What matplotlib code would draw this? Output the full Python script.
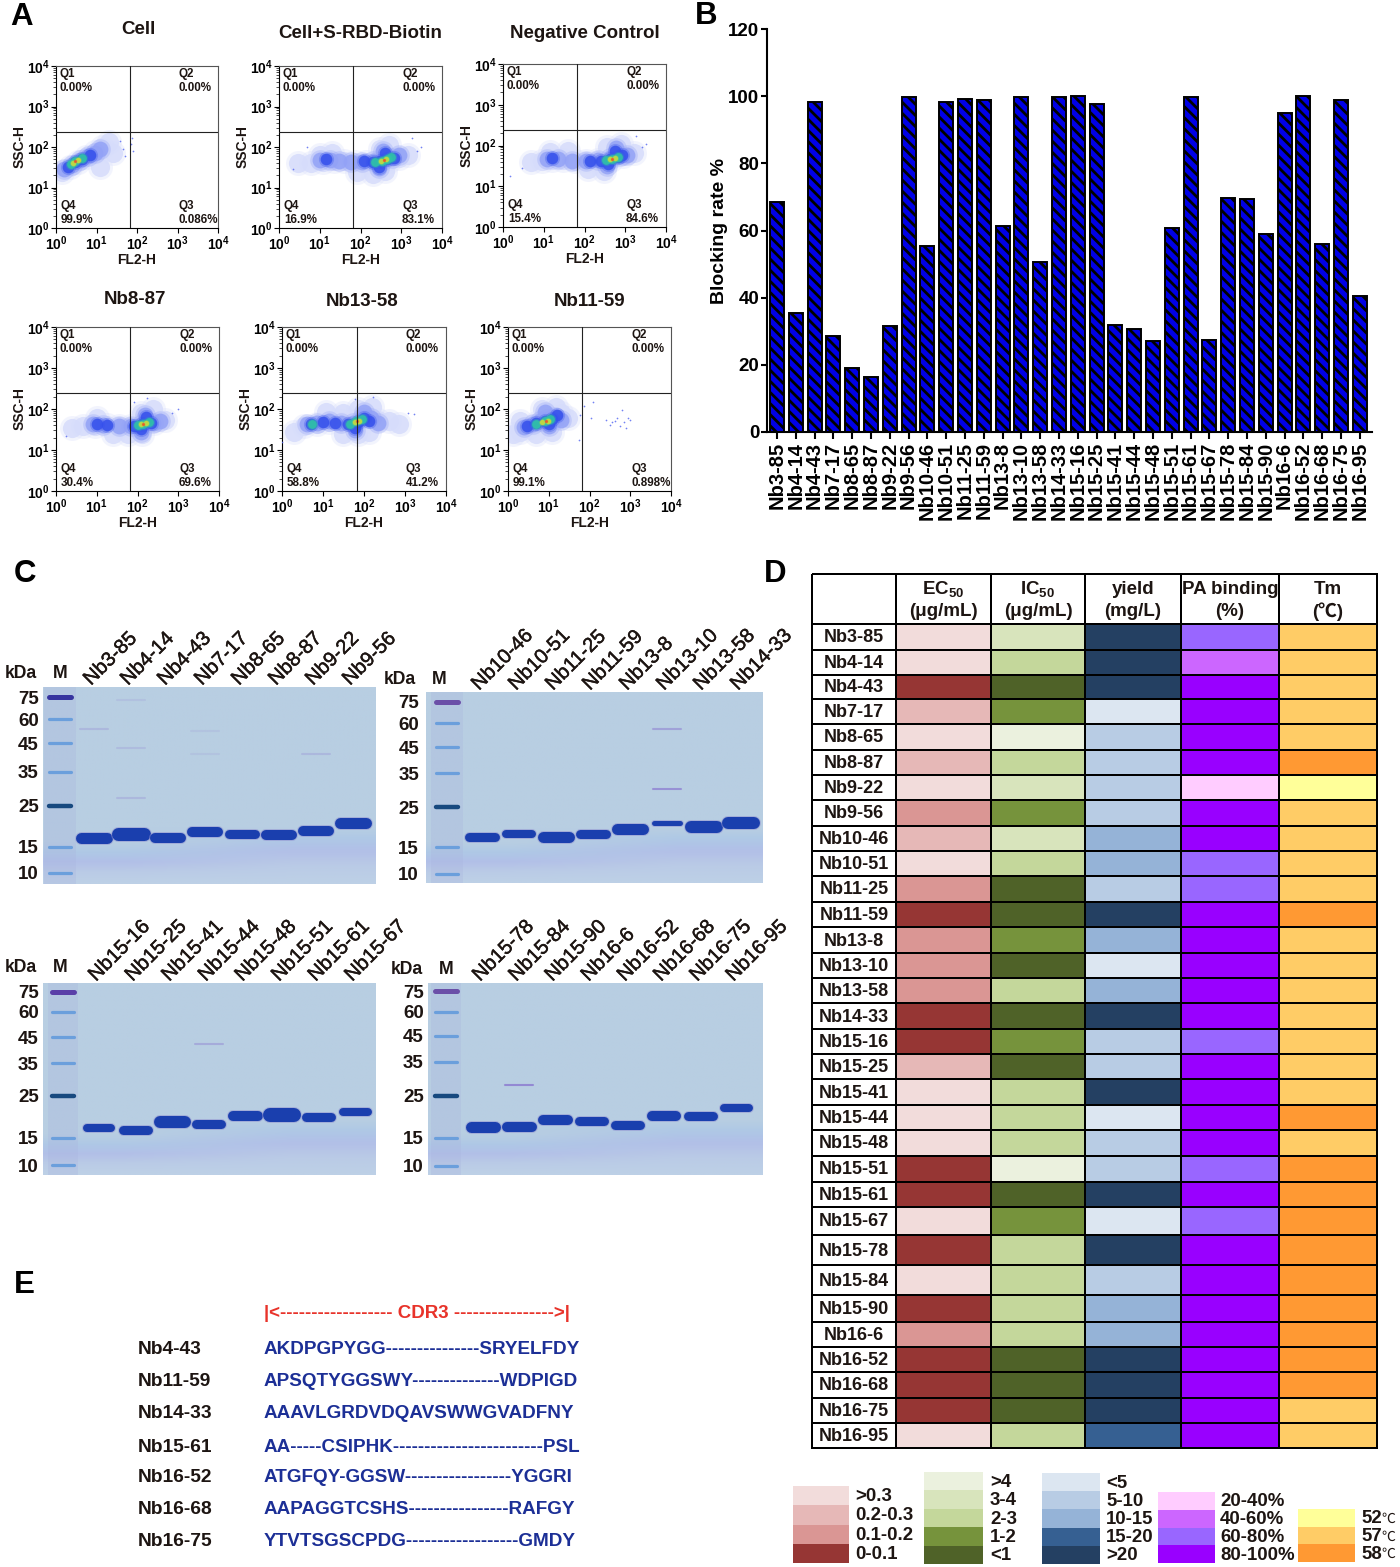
import numpy as np
import matplotlib
matplotlib.use('Agg')
import matplotlib.pyplot as plt
import matplotlib.patheffects as pe
from matplotlib.colors import to_rgb
from matplotlib.patches import Rectangle
from matplotlib.ticker import NullFormatter

plt.rcParams['font.family'] = ['Liberation Sans', 'Noto Sans CJK SC', 'DejaVu Sans']
plt.rcParams['mathtext.fontset'] = 'custom'
plt.rcParams['mathtext.bf'] = 'Liberation Sans:bold'
plt.rcParams['mathtext.rm'] = 'Liberation Sans:bold'
plt.rcParams['hatch.linewidth'] = 2.0

W, H = 1400, 1567
DARK = '#1d1512'

#==========================  Data  ====================================================
nb_names = ['Nb3-85', 'Nb4-14', 'Nb4-43', 'Nb7-17', 'Nb8-65', 'Nb8-87', 'Nb9-22', 'Nb9-56',
            'Nb10-46', 'Nb10-51', 'Nb11-25', 'Nb11-59', 'Nb13-8', 'Nb13-10', 'Nb13-58', 'Nb14-33',
            'Nb15-16', 'Nb15-25', 'Nb15-41', 'Nb15-44', 'Nb15-48', 'Nb15-51', 'Nb15-61', 'Nb15-67',
            'Nb15-78', 'Nb15-84', 'Nb15-90', 'Nb16-6', 'Nb16-52', 'Nb16-68', 'Nb16-75', 'Nb16-95']

blocking_rate = [68.5, 35.5, 98.3, 28.5, 19.0, 16.3, 31.7, 99.7, 55.3, 98.2, 99.3, 99.0, 61.2, 99.9, 50.5, 99.9,
                 100.0, 97.8, 31.8, 30.8, 27.2, 60.6, 99.7, 27.3, 69.8, 69.5, 59.0, 94.9, 100.0, 56.1, 98.8, 40.4]

# table classes, index into the palettes below
ec50_levels = [0, 0, 3, 1, 0, 1, 0, 2, 1, 0, 2, 3, 2, 2, 2, 3, 3, 1, 0, 0, 0, 3, 3, 0, 3, 0, 3, 2, 3, 3, 3, 0]
ic50_levels = [1, 2, 4, 3, 0, 2, 1, 3, 1, 2, 4, 4, 3, 4, 2, 4, 3, 4, 2, 2, 2, 0, 4, 3, 2, 2, 2, 2, 4, 4, 4, 2]
yield_levels = [4, 4, 4, 0, 1, 1, 1, 1, 2, 2, 1, 4, 2, 0, 2, 4, 1, 1, 4, 0, 1, 1, 4, 0, 4, 1, 2, 2, 4, 4, 4, 3]
pa_levels = [2, 1, 3, 3, 3, 3, 0, 3, 3, 2, 2, 3, 3, 3, 3, 3, 2, 3, 3, 3, 3, 2, 3, 2, 3, 3, 3, 3, 3, 3, 3, 3]
tm_levels = [1, 1, 1, 1, 1, 2, 0, 1, 1, 1, 1, 2, 1, 1, 1, 1, 1, 1, 1, 2, 1, 2, 2, 2, 2, 2, 2, 2, 2, 2, 1, 1]

ec50_colors = ['#f2dcdb', '#e6b8b7', '#da9694', '#963634']
ic50_colors = ['#ebf1de', '#d8e4bc', '#c4d79b', '#76933c', '#4f6228']
yield_colors = ['#dce6f1', '#b8cce4', '#95b3d7', '#366092', '#244062']
pa_colors = ['#ffccff', '#cc66ff', '#9966ff', '#9900ff']
tm_colors = ['#ffff99', '#ffcc66', '#ff9933']

ec50_labels = ['>0.3', '0.2-0.3', '0.1-0.2', '0-0.1']
ic50_labels = ['>4', '3-4', '2-3', '1-2', '<1']
yield_labels = ['<5', '5-10', '10-15', '15-20', '>20']
pa_labels = ['20-40%', '40-60%', '60-80%', '80-100%']
tm_labels = ['52', '57', '58']

# flow plots: (FL2-H, SSC-H, density level) read from the dot clouds
cell_cloud = [(1.4, 24, 0), (2.2, 32, 0), (3.5, 42, 0), (5.5, 56, 0), (9, 75, 0), (14, 100, 0), (20, 130, 0), (12, 32, 0), (25, 70, 0),
              (1.6, 28, 1), (2.5, 36, 1), (4, 48, 1), (6, 60, 1), (9, 72, 1), (12, 90, 1),
              (2, 33, 2), (3, 42, 2), (4.5, 52, 2), (7, 65, 2),
              (2.3, 38, 3), (3, 44, 3), (4.5, 54, 3), (2.7, 41, 4), (3.5, 48, 4), (3, 45, 5),
              (45, 90, 6), (70, 120, 6), (75, 170, 6), (50, 60, 6), (80, 80, 6), (38, 140, 6)]
rbd_cloud = [(3, 40, 0), (6, 40, 0), (12, 42, 0), (22, 45, 0), (40, 45, 0), (75, 42, 0), (140, 42, 0), (260, 42, 0), (500, 45, 0),
             (900, 55, 0), (1500, 65, 0), (10, 65, 0), (20, 70, 0), (300, 90, 0), (500, 110, 0), (200, 22, 0), (80, 24, 0), (400, 25, 0),
             (10, 48, 1), (18, 48, 1), (30, 45, 1), (60, 42, 1), (110, 42, 1), (200, 45, 1), (350, 48, 1), (600, 55, 1), (900, 65, 1), (280, 30, 1), (350, 80, 1),
             (14, 50, 2), (120, 45, 2), (200, 42, 2), (300, 45, 2), (450, 50, 2), (650, 55, 2), (280, 33, 2), (400, 72, 2),
             (230, 42, 3), (330, 46, 3), (450, 52, 3), (550, 58, 3), (320, 46, 4), (420, 50, 4), (380, 48, 5),
             (2500, 80, 6), (3000, 100, 6), (2.2, 28, 6), (5, 100, 6), (1800, 170, 6)]
neg_cloud = [(5, 40, 0), (9, 42, 0), (16, 44, 0), (30, 44, 0), (60, 42, 0), (110, 42, 0), (220, 44, 0), (450, 45, 0), (900, 55, 0),
             (1600, 65, 0), (14, 70, 0), (40, 75, 0), (350, 90, 0), (800, 110, 0), (300, 24, 0), (120, 26, 0),
             (12, 46, 1), (22, 46, 1), (50, 42, 1), (110, 42, 1), (220, 44, 1), (430, 48, 1), (750, 55, 1), (1100, 60, 1), (350, 32, 1), (600, 85, 1),
             (16, 48, 2), (140, 42, 2), (260, 42, 2), (420, 47, 2), (650, 52, 2), (850, 58, 2), (380, 36, 2), (550, 72, 2),
             (330, 44, 3), (480, 47, 3), (650, 52, 3), (420, 46, 4), (560, 49, 4), (480, 47, 5),
             (2600, 90, 6), (3200, 110, 6), (3, 28, 6), (1.5, 18, 6), (1800, 170, 6)]
nb8_cloud = [(2.5, 35, 0), (4.5, 38, 0), (9, 38, 0), (18, 40, 0), (35, 38, 0), (70, 38, 0), (130, 40, 0), (260, 45, 0), (480, 55, 0),
             (10, 62, 0), (60, 24, 0), (130, 25, 0), (120, 80, 0), (240, 100, 0), (25, 24, 0),
             (8, 42, 1), (14, 40, 1), (35, 38, 1), (70, 38, 1), (130, 42, 1), (240, 46, 1), (120, 28, 1), (150, 72, 1), (350, 50, 1),
             (10, 42, 2), (18, 40, 2), (80, 38, 2), (130, 42, 2), (220, 46, 2), (120, 32, 2), (160, 65, 2),
             (100, 40, 3), (140, 44, 3), (190, 48, 3), (120, 44, 4), (160, 45, 4), (135, 44, 5),
             (700, 80, 6), (1000, 100, 6), (1.8, 22, 6), (80, 150, 6), (170, 190, 6)]
nb13_cloud = [(2, 28, 0), (3.5, 38, 0), (7, 42, 0), (14, 48, 0), (28, 50, 0), (55, 50, 0), (110, 50, 0), (220, 55, 0), (400, 50, 0),
              (30, 80, 0), (70, 100, 0), (160, 110, 0), (30, 25, 0), (70, 25, 0), (130, 28, 0), (12, 85, 0), (700, 42, 0),
              (4, 42, 1), (7, 46, 1), (14, 50, 1), (28, 46, 1), (55, 46, 1), (90, 60, 1), (150, 60, 1), (60, 30, 1), (100, 85, 1), (220, 45, 1),
              (5, 44, 2), (10, 48, 2), (20, 46, 2), (40, 44, 2), (70, 48, 2), (100, 60, 2), (60, 34, 2), (130, 52, 2),
              (5.5, 44, 3), (45, 44, 3), (65, 50, 3), (90, 58, 3), (60, 48, 4), (75, 52, 4), (68, 50, 5),
              (1200, 80, 6), (1700, 75, 6), (1, 16, 6), (60, 180, 6), (170, 200, 6)]
nb11_cloud = [(1.3, 24, 0), (2, 28, 0), (3.2, 36, 0), (5, 46, 0), (8, 56, 0), (13, 66, 0), (20, 80, 0), (30, 60, 0), (15, 110, 0), (7, 100, 0),
              (2, 50, 0), (5, 24, 0), (12, 28, 0),
              (2.5, 36, 1), (4, 44, 1), (6, 52, 1), (9, 56, 1), (14, 64, 1), (20, 55, 1), (10, 38, 1), (8, 85, 1),
              (3, 38, 2), (5, 46, 2), (8, 52, 2), (12, 58, 2), (16, 70, 2), (10, 42, 2),
              (5, 44, 3), (8, 50, 3), (11, 56, 3), (7, 48, 4), (9.5, 52, 4), (8.5, 52, 5),
              (250, 55, 6), (320, 40, 6), (420, 52, 6), (560, 38, 6), (700, 48, 6), (800, 35, 6), (900, 60, 6), (620, 95, 6),
              (1000, 55, 6), (120, 150, 6), (75, 120, 6), (60, 70, 6), (480, 62, 6), (350, 48, 6), (110, 60, 6), (55, 18, 6)]

flow_titles = ['Cell', 'Cell+S-RBD-Biotin', 'Negative Control', 'Nb8-87', 'Nb13-58', 'Nb11-59']
flow_clouds = [cell_cloud, rbd_cloud, neg_cloud, nb8_cloud, nb13_cloud, nb11_cloud]
q4_values = ['99.9%', '16.9%', '15.4%', '30.4%', '58.8%', '99.1%']
q3_values = ['0.086%', '83.1%', '84.6%', '69.6%', '41.2%', '0.898%']

# gels
ladder_kda = [10, 15, 25, 35, 45, 60, 75]
gel1_lanes = nb_names[:8]
gel2_lanes = ['Nb10-46', 'Nb10-51', 'Nb11-25', 'Nb11-59', 'Nb13-8', 'Nb13-10', 'Nb13-58', 'Nb14-33']
gel3_lanes = ['Nb15-16', 'Nb15-25', 'Nb15-41', 'Nb15-44', 'Nb15-48', 'Nb15-51', 'Nb15-61', 'Nb15-67']
gel4_lanes = ['Nb15-78', 'Nb15-84', 'Nb15-90', 'Nb16-6', 'Nb16-52', 'Nb16-68', 'Nb16-75', 'Nb16-95']
gel1_kda = [16.8, 17.6, 16.7, 18.0, 17.6, 17.4, 18.3, 20.2]
gel2_kda = [17.0, 17.8, 17.0, 17.8, 18.9, 20.4, 19.3, 20.4]
gel3_kda = [16.9, 16.5, 18.2, 17.8, 19.7, 19.9, 19.4, 20.5]
gel4_kda = [17.2, 17.2, 18.6, 18.4, 17.6, 19.7, 19.7, 21.6]
gel1_thick = [11, 13, 10, 10, 9, 10, 10, 11]
gel2_thick = [9, 8, 11, 9, 11, 5, 12, 12]
gel3_thick = [8, 9, 12, 9, 10, 14, 9, 8]
gel4_thick = [11, 10, 10, 9, 9, 10, 9, 8]
# faint extra bands: (lane, kDa, strength)
gel1_extra = [(1, 53, 0.25), (2, 73, 0.15), (2, 43, 0.2), (2, 27, 0.25), (4, 52, 0.12), (4, 41, 0.12), (7, 41, 0.25)]
gel2_extra = [(6, 56, 0.5), (6, 30, 0.7)]
gel3_extra = [(4, 42, 0.4)]
gel4_extra = [(2, 28, 0.8)]

cdr3_names = ['Nb4-43', 'Nb11-59', 'Nb14-33', 'Nb15-61', 'Nb16-52', 'Nb16-68', 'Nb16-75']
cdr3_seqs = ['AKDPGPYGG---------------SRYELFDY',
             'APSQTYGGSWY--------------WDPIGD',
             'AAAVLGRDVDQAVSWWGVADFNY',
             'AA-----CSIPHK------------------------PSL',
             'ATGFQY-GGSW-----------------YGGRI',
             'AAPAGGTCSHS----------------RAFGY',
             'YTVTSGSCPDG------------------GMDY']


#==========================  Helpers  =================================================
fig = plt.figure(figsize=(W / 100, H / 100), dpi=100, facecolor='white')


def px_axes(x0, y0, x1, y1, **kw):
    return fig.add_axes([x0 / W, 1 - y1 / H, (x1 - x0) / W, (y1 - y0) / H], **kw)


level_colors = ['#d6dcfb', '#93a2f6', '#3550ec', '#2fc6a4', '#cbdc3a', '#ef4d28', '#5a6cf2']
level_sizes = [190, 130, 70, 40, 14, 4, 1.5]


def flow_plot(box, title, title_xy, cloud, q4, q3):
    ax = px_axes(*box)
    ax.set_xscale('log')
    ax.set_yscale('log')
    ax.set_xlim(1, 1e4)
    ax.set_ylim(1, 1e4)
    decades = [1, 10, 100, 1000, 10000]
    labels = [r'$\mathbf{10^{%d}}$' % i for i in range(5)]
    ax.set_xticks(decades)
    ax.set_xticklabels(labels)
    ax.set_yticks(decades)
    ax.set_yticklabels(labels)
    ax.xaxis.set_minor_formatter(NullFormatter())
    ax.yaxis.set_minor_formatter(NullFormatter())
    ax.tick_params(which='major', length=3.5, width=0.8, labelsize=10, pad=1)
    ax.tick_params(which='minor', length=2, width=0.5)
    ax.set_xlabel('FL2-H', fontsize=10, fontweight='bold', color=DARK, labelpad=0)
    ax.set_ylabel('SSC-H', fontsize=10, fontweight='bold', color=DARK, labelpad=0)
    for side in ['top', 'right']:
        ax.spines[side].set_color('#555555')
    # soft halo first, then the level itself
    for level in range(7):
        pts = [p for p in cloud if p[2] == level]
        xs = [p[0] for p in pts]
        ys = [p[1] for p in pts]
        if level < 6:
            ax.scatter(xs, ys, s=level_sizes[level] * 1.7, color=level_colors[level], alpha=0.3,
                       linewidths=0, zorder=2 + level * 0.1)
        ax.scatter(xs, ys, s=level_sizes[level], color=level_colors[level], alpha=0.85,
                   linewidths=0, zorder=2.05 + level * 0.1)
    ax.axvline(66, color='#222222', lw=0.8, zorder=4)
    ax.axhline(240, color='#222222', lw=0.8, zorder=4)
    kw = dict(transform=ax.transAxes, fontsize=8.4, fontweight='bold', color=DARK, va='center', zorder=5)
    ax.text(0.02, 0.95, 'Q1', **kw)
    ax.text(0.02, 0.865, '0.00%', **kw)
    ax.text(0.755, 0.95, 'Q2', **kw)
    ax.text(0.755, 0.865, '0.00%', **kw)
    ax.text(0.03, 0.135, 'Q4', **kw)
    ax.text(0.03, 0.05, q4, **kw)
    ax.text(0.755, 0.135, 'Q3', **kw)
    ax.text(0.755, 0.05, q3, **kw)
    canvas.text(title_xy[0], title_xy[1], title, fontsize=13.5, fontweight='bold', color=DARK,
                ha='center', va='center')


def gel_plot(box, m_x, lane1_x, lane_gap, ladder_px, lanes, kda, thick, extra, band_w, label_pad, top_color):
    x0, y0, x1, y1 = box
    # background, stained dye front lower on the left than on the right
    rows = np.linspace(0, 1, 40)
    stops = ['#b8cee2', '#b8cee2', '#aec8e6', '#b2bfe8', '#bacbe6', '#bdd0e6']
    rgb = np.array([to_rgb(c) for c in stops])
    left_pos = [0, 0.80, 0.85, 0.90, 0.95, 1]
    right_pos = [0, 0.72, 0.78, 0.84, 0.92, 1]
    col_l = np.stack([np.interp(rows, left_pos, rgb[:, i]) for i in range(3)], axis=1)
    col_r = np.stack([np.interp(rows, right_pos, rgb[:, i]) for i in range(3)], axis=1)
    bg = px_axes(*box, zorder=1)
    bg.imshow(np.stack([col_l, col_r], axis=1), aspect='auto', interpolation='bilinear')
    bg.set_axis_off()

    ax = px_axes(*box, zorder=2)
    ax.patch.set_alpha(0)
    anchor_kda = np.log([8] + ladder_kda + [95])
    anchor_px = -np.array([y1] + ladder_px + [y0], dtype=float)
    ax.set_yscale('function', functions=(lambda k: np.interp(np.log(k), anchor_kda, anchor_px),
                                         lambda p: np.exp(np.interp(p, anchor_px, anchor_kda))))
    ax.set_ylim(8, 95)
    ax.set_xlim((x0 - lane1_x) / lane_gap + 1, (x1 - lane1_x) / lane_gap + 1)
    for side in ax.spines.values():
        side.set_visible(False)
    ax.set_xticks([])
    ax.set_yticks(ladder_kda)
    ax.set_yticklabels([str(k) for k in ladder_kda], fontsize=13.5, fontweight='bold', color=DARK)
    ax.minorticks_off()
    ax.tick_params(axis='y', length=0, pad=label_pad)

    # marker lane
    m = (m_x - lane1_x) / lane_gap + 1
    ax.axvspan(m - 0.42, m + 0.42, color='#a9b4de', alpha=0.3, lw=0)
    for k in ladder_kda:
        col = {75: top_color, 25: '#17497f'}.get(k, '#6b9fdc')
        lw = {75: 3.6, 25: 3.2}.get(k, 2.3)
        ax.plot([m - 0.30, m + 0.30], [k, k], color=col, lw=lw, solid_capstyle='round')

    # sample bands
    lane_no = np.arange(1, len(lanes) + 1)
    for n, k, t in zip(lane_no, kda, thick):
        ax.plot([n - band_w, n + band_w], [k, k], color='#8f8fd0', lw=(t + 2) * 0.72,
                solid_capstyle='round', alpha=0.5)
        ax.plot([n - band_w, n + band_w], [k, k], color='#1a3fae', lw=t * 0.72, solid_capstyle='round')
    for n, k, a in extra:
        ax.plot([n - 0.38, n + 0.38], [k, k], color='#8a78d0', lw=1.5, alpha=a, solid_capstyle='round')

    for n, name in zip(lane_no, lanes):
        ax.annotate(name, xy=(n, 1), xycoords=ax.get_xaxis_transform(), xytext=(-5, 3.5),
                    textcoords='offset points', rotation=45, rotation_mode='anchor',
                    ha='left', va='center', fontsize=14.5, color=DARK, annotation_clip=False,
                    path_effects=[pe.withStroke(linewidth=0.3, foreground=DARK)])


def legend_stack(x0, x1, y0, row_h, colors, labels, label_x, text_dy=0, unit=None):
    for i, (c, lab) in enumerate(zip(colors, labels)):
        canvas.add_patch(Rectangle((x0, y0 + i * row_h), x1 - x0, row_h, facecolor=c, edgecolor='none'))
        y = y0 + (i + 0.5) * row_h + text_dy
        canvas.text(label_x, y, lab, fontsize=13.4, fontweight='bold', color=DARK, va='center', ha='left')
        if unit:
            canvas.text(label_x + 20, y, unit, fontsize=10, color=DARK, va='center', ha='left')


#==========================  Canvas for free text  ====================================
canvas = px_axes(0, 0, W, H, zorder=10)
canvas.set_xlim(0, W)
canvas.set_ylim(H, 0)
canvas.set_axis_off()
canvas.patch.set_alpha(0)

for letter, lx, ly in [('A', 22, 17), ('B', 706, 16), ('C', 25, 574), ('D', 775, 574), ('E', 24, 1285)]:
    canvas.text(lx, ly, letter, fontsize=22.5, fontweight='bold', color='black', ha='center', va='center')

#==========================  Panel A  =================================================
flow_boxes = [(56, 66, 218, 228), (279, 66, 442, 228), (503, 64, 666, 227),
              (56, 327, 219, 491), (282, 327, 446, 491), (508, 327, 671, 491)]
title_pos = [(138, 30), (360, 34), (585, 34), (135, 300), (362, 301), (590, 301)]
for box, t, tp, cl, q4, q3 in zip(flow_boxes, flow_titles, title_pos, flow_clouds, q4_values, q3_values):
    flow_plot(box, t, tp, cl, q4, q3)

#==========================  Panel B  =================================================
ax = px_axes(767, 29, 1372, 432)
positions = np.arange(len(nb_names))
ax.bar(positions, blocking_rate, width=0.74, color='#0000e6', edgecolor='black', hatch='\\\\\\', linewidth=1.4)
ax.set_xlim(-0.53, 31.65)
ax.set_ylim(0, 120)
ax.set_yticks(np.arange(0, 121, 20))
ax.set_xticks(positions)
ax.set_xticklabels(nb_names, rotation=90, fontsize=14.5, fontweight='bold', color='black')
ax.tick_params(axis='y', labelsize=13.5, length=4, width=1.5, pad=1.5)
ax.tick_params(axis='x', length=5, width=1.5, pad=2)
for label in ax.get_yticklabels():
    label.set_fontweight('bold')
for side in ['top', 'right']:
    ax.spines[side].set_visible(False)
for side in ['left', 'bottom']:
    ax.spines[side].set_linewidth(1.5)
ax.set_ylabel('Blocking rate %', fontsize=14, fontweight='bold', labelpad=0)

#==========================  Panel C  =================================================
gel_plot((43, 687, 376, 884), 60, 94, 37.0, [873, 847, 806, 772, 743, 719, 697], gel1_lanes, gel1_kda,
         gel1_thick, gel1_extra, 0.35, 3, '#37349f')
gel_plot((426, 692, 763, 883), 447, 482, 37.0, [874, 847, 807, 773, 747, 723, 702], gel2_lanes, gel2_kda,
         gel2_thick, gel2_extra, 0.35, 5, '#6b4fa8')
gel_plot((43, 983, 376, 1175), 63, 99, 36.6, [1165, 1138, 1096, 1063, 1037, 1012, 992], gel3_lanes, gel3_kda,
         gel3_thick, gel3_extra, 0.34, 3, '#5a3fa8')
gel_plot((428, 983, 763, 1175), 446, 483, 36.2, [1166, 1138, 1096, 1062, 1036, 1012, 991], gel4_lanes, gel4_kda,
         gel4_thick, gel4_extra, 0.34, 3, '#6b4fa8')
for kx, mx, ty in [(21, 60, 674), (400, 439, 679), (21, 60, 968), (407, 446, 970)]:
    canvas.text(kx, ty, 'kDa', fontsize=12.7, fontweight='bold', color=DARK, ha='center', va='center')
    canvas.text(mx, ty, 'M', fontsize=12.7, fontweight='bold', color=DARK, ha='center', va='center')

#==========================  Panel D  =================================================
col_edges = [812, 896, 991, 1085, 1181, 1279, 1377]
row_edges = [574, 624, 650, 675, 699, 724, 750, 775, 800, 826, 851, 876, 902, 927, 953, 978, 1003, 1029,
             1054, 1079, 1105, 1130, 1156, 1182, 1207, 1235, 1265, 1295, 1322, 1347, 1372, 1398, 1423, 1448]
ax = px_axes(812, 574, 1377, 1448, zorder=3)
ax.set_xlim(812, 1377)
ax.set_ylim(1448, 574)
ax.set_axis_off()
grid = np.ones((33, 6, 3))
for j, (levels, palette) in enumerate([(ec50_levels, ec50_colors), (ic50_levels, ic50_colors),
                                       (yield_levels, yield_colors), (pa_levels, pa_colors), (tm_levels, tm_colors)]):
    for i, lev in enumerate(levels):
        grid[i + 1, j + 1] = to_rgb(palette[lev])
ax.pcolormesh(col_edges, row_edges, grid, edgecolors='black', linewidth=1.3, clip_on=False)
for i, name in enumerate(nb_names):
    ax.text(854, (row_edges[i + 1] + row_edges[i + 2]) / 2 + 1, name, fontsize=13, fontweight='bold',
            color=DARK, ha='center', va='center')
headers = [(r'EC$_{\mathbf{50}}$', '(μg/mL)'), (r'IC$_{\mathbf{50}}$', '(μg/mL)'), ('yield', '(mg/L)'),
           ('PA binding', '(%)'), ('Tm', '(℃)')]
for j, (top, bottom) in enumerate(headers):
    xc = (col_edges[j + 1] + col_edges[j + 2]) / 2
    ax.text(xc, 590, top, fontsize=13.5, fontweight='bold', color=DARK, ha='center', va='center')
    ax.text(xc, 612, bottom, fontsize=13.5, fontweight='bold', color=DARK, ha='center', va='center')

legend_stack(793, 849, 1486, 19.3, ec50_colors, ec50_labels, 855, 1)
legend_stack(924, 983, 1472, 18.4, ic50_colors, ic50_labels, 990, 1)
legend_stack(1042, 1100, 1473, 18.2, yield_colors, yield_labels, 1106, 1)
legend_stack(1158, 1215, 1492, 17.8, pa_colors, pa_labels, 1220, 1)
legend_stack(1298, 1355, 1509, 17.7, tm_colors, tm_labels, 1361, 1, unit='℃')

#==========================  Panel E  =================================================
canvas.text(264, 1314, '|<------------------ CDR3 ---------------->|', fontsize=13.5, fontweight='bold',
            color='#e8332a', ha='left', va='center')
for y, name, seq in zip([1349, 1381, 1414, 1447, 1478, 1510, 1542], cdr3_names, cdr3_seqs):
    canvas.text(138, y, name, fontsize=13.8, fontweight='bold', color=DARK, ha='left', va='center')
    canvas.text(264, y, seq, fontsize=13.55, fontweight='bold', color='#1c2f96', ha='left', va='center')

fig.savefig('out.png', dpi=100, facecolor='white')
